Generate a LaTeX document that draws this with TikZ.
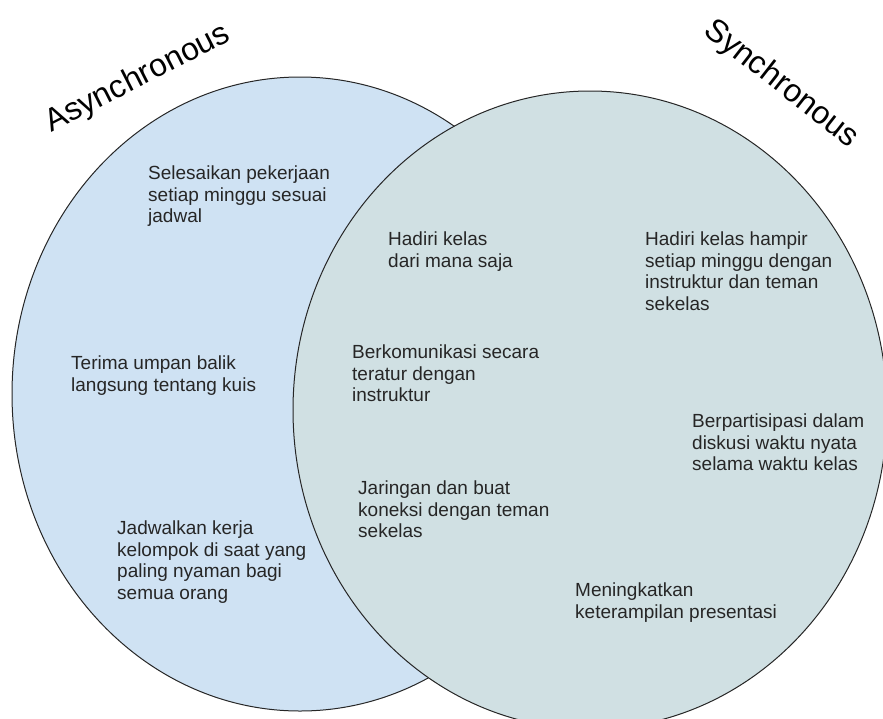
\documentclass[tikz,border=0pt]{standalone}
\usepackage{fontspec}
\setmainfont{Liberation Sans}
\definecolor{asyncfill}{RGB}{207,226,243}
\definecolor{syncfill}{RGB}{208,224,227}

\tikzstyle{circ}=[draw,black!85,line width=1pt]
\tikzstyle{item}=[anchor=north west,inner sep=0pt,align=left,text=black!85,font=\fontsize{19}{21.5}\selectfont]
\tikzstyle{title}=[inner sep=0pt,text=black,font=\fontsize{32}{32}\selectfont]

\begin{document}
\begin{tikzpicture}[x=1pt,y=-1pt]
    \useasboundingbox (0,0) rectangle (883,718);
    \clip (0,0) rectangle (883,718);

    \draw[circ,fill=asyncfill] (300,394) ellipse [x radius=288,y radius=317];
    \draw[circ,fill=syncfill] (590,410) ellipse [x radius=297,y radius=319];

    \node (async)[title,rotate=27] at (138,79) {Asynchronous};
    \node (sync)[title,rotate=-38] at (781,84) {Synchronous};

    \node (a1)[item] at (148,166) {Selesaikan pekerjaan\\setiap minggu sesuai\\jadwal};
    \node (a2)[item] at (71,356) {Terima umpan balik\\langsung tentang kuis};
    \node (a3)[item] at (117,521) {Jadwalkan kerja\\kelompok di saat yang\\paling nyaman bagi\\semua orang};

    \node (s1)[item] at (388,232) {Hadiri kelas\\dari mana saja};
    \node (s2)[item] at (645,232) {Hadiri kelas hampir\\setiap minggu dengan\\instruktur dan teman\\sekelas};
    \node (s3)[item] at (352,345) {Berkomunikasi secara\\teratur dengan\\instruktur};
    \node (s4)[item] at (692,414) {Berpartisipasi dalam\\diskusi waktu nyata\\selama waktu kelas};
    \node (s5)[item] at (358,481) {Jaringan dan buat\\koneksi dengan teman\\sekelas};
    \node (s6)[item] at (575,583) {Meningkatkan\\keterampilan presentasi};
\end{tikzpicture}
\end{document}
